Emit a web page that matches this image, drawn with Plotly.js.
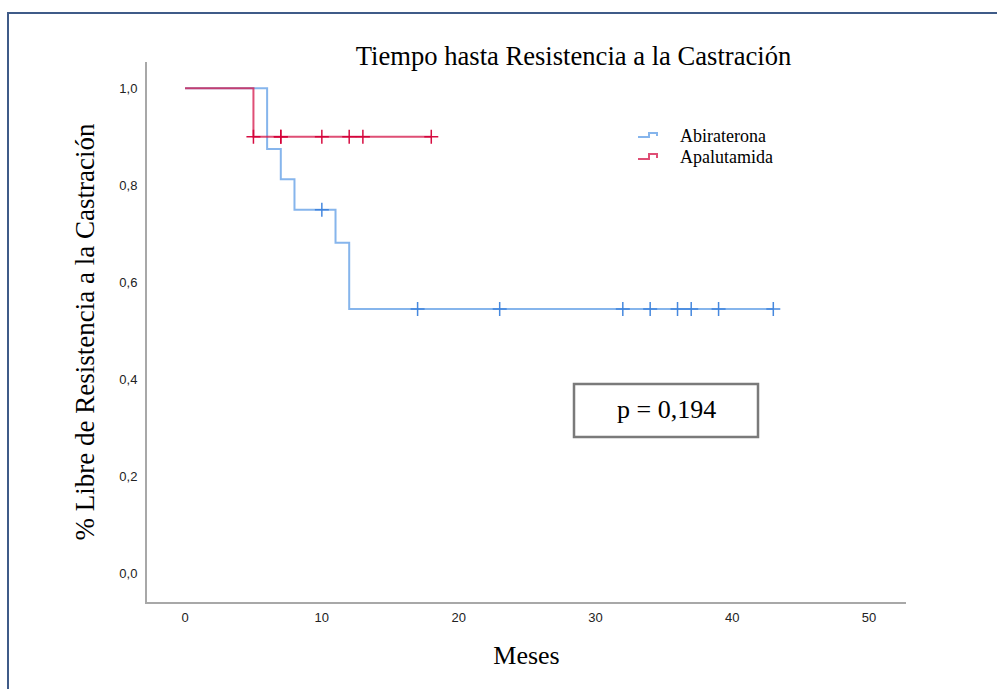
<!DOCTYPE html>
<html>
<head>
<meta charset="utf-8">
<script src="https://cdn.plot.ly/plotly-3.0.1.min.js"></script>
<style>
  html, body { margin: 0; padding: 0; background: #ffffff; overflow: hidden; }
  #frame {
    position: absolute; left: 7px; top: 12px; width: 1000px; height: 700px;
    border-left: 2px solid #3f5b88; border-top: 2px solid #3f5b88;
    pointer-events: none;
  }
  #chart { position: absolute; left: 0; top: 0; width: 997px; height: 689px; }
</style>
</head>
<body>
<div id="chart"></div>
<div id="frame"></div>
<script>
// Kaplan-Meier step values (months, survival fraction) for each group
const groupNames = ['Abiraterona', 'Apalutamida'];

const abiStepTime = [0, 6, 7, 8, 11, 12, 43];
const abiStepSurv = [1.0, 0.875, 0.8125, 0.75, 0.6818, 0.5455, 0.5455];
const abiCensorTime = [10, 17, 23, 32, 34, 36, 37, 39, 43];

const apaStepTime = [0, 5, 18];
const apaStepSurv = [1.0, 0.9, 0.9];
const apaCensorTime = [5, 7, 7, 10, 12, 13, 18];

const xTickVals = [0, 10, 20, 30, 40, 50];
const yTickVals = [0, 0.2, 0.4, 0.6, 0.8, 1.0];
const pValueText = 'p = 0,194';

const blueLine = 'rgba(88,152,228,0.72)';
const blueMark = 'rgba(60,130,220,0.95)';
const redLine = 'rgba(214,28,78,0.78)';
const redMark = 'rgba(212,0,56,0.95)';

// survival value of a step curve at time t
function survAt(times, surv, t) {
  let s = surv[0];
  for (let i = 0; i < times.length; i++) if (times[i] <= t) s = surv[i];
  return s;
}

// plot-area pixel box, used for the legend and p-value box placement
const L = 147, R = 906, T = 62, B = 602;
const px = p => (p - L) / (R - L);
const py = p => (B - p) / (B - T);

const traces = [
  { x: abiStepTime, y: abiStepSurv, mode: 'lines', line: { shape: 'hv', color: blueLine, width: 2 },
    hoverinfo: 'skip', showlegend: false },
  { x: abiCensorTime, y: abiCensorTime.map(t => survAt(abiStepTime, abiStepSurv, t)), mode: 'markers',
    marker: { symbol: 'cross-thin', size: 10, line: { color: blueMark, width: 1.5 } }, showlegend: false },
  { x: apaStepTime, y: apaStepSurv, mode: 'lines', line: { shape: 'hv', color: redLine, width: 2 },
    hoverinfo: 'skip', showlegend: false },
  { x: apaCensorTime, y: apaCensorTime.map(t => survAt(apaStepTime, apaStepSurv, t)), mode: 'markers',
    marker: { symbol: 'cross-thin', size: 10, line: { color: redMark, width: 1.5 } }, showlegend: false }
];

// step-shaped legend keys
function keyPath(x0, yLow, yHigh) {
  const a = px(x0), m = px(x0 + 11), b = px(x0 + 19);
  return `M ${a} ${py(yLow)} L ${m} ${py(yLow)} L ${m} ${py(yHigh)} L ${b} ${py(yHigh)} L ${b} ${py(yLow - 1)}`;
}

const serif = 'Liberation Serif, Times New Roman, serif';

const layout = {
  width: 997, height: 689,
  paper_bgcolor: 'rgba(0,0,0,0)', plot_bgcolor: '#ffffff',
  margin: { l: L, r: 997 - R, t: T, b: 689 - B },
  separators: ',.',
  title: {
    text: 'Tiempo hasta Resistencia a la Castración',
    font: { family: serif, size: 26.6, color: '#000000' },
    x: 573.5 / 997, xanchor: 'center', xref: 'container',
    y: 1 - 56 / 689, yanchor: 'middle', yref: 'container'
  },
  xaxis: {
    range: [-2.78, 52.7], tickvals: xTickVals, tickformat: 'd',
    showgrid: false, zeroline: false, showline: true, linecolor: '#a8a8a8', linewidth: 2,
    ticks: '', ticklabelstandoff: 2,
    tickfont: { family: 'Liberation Sans, Arial, sans-serif', size: 13, color: '#222222' },
    title: { text: 'Meses', font: { family: serif, size: 26, color: '#000000' }, standoff: 22 },
    automargin: false
  },
  yaxis: {
    range: [-0.0579, 1.0542], tickvals: yTickVals, tickformat: '.1f',
    showgrid: false, zeroline: false, showline: true, linecolor: '#a8a8a8', linewidth: 2,
    ticks: '', ticklabelstandoff: 5,
    tickfont: { family: 'Liberation Sans, Arial, sans-serif', size: 13, color: '#222222' },
    title: { text: '% Libre de Resistencia a la Castración', font: { family: serif, size: 27, color: '#000000' }, standoff: 17 },
    automargin: false
  },
  shapes: [
    { type: 'path', xref: 'paper', yref: 'paper', path: keyPath(638, 137, 133), line: { color: blueLine, width: 2 } },
    { type: 'path', xref: 'paper', yref: 'paper', path: keyPath(638, 159, 154), line: { color: redLine, width: 2 } },
    { type: 'rect', xref: 'paper', yref: 'paper', x0: px(574), x1: px(758), y0: py(437), y1: py(384),
      line: { color: '#7a7a7a', width: 2.5 }, fillcolor: 'rgba(255,255,255,0)' }
  ],
  annotations: [
    { xref: 'paper', yref: 'paper', x: px(678), y: py(136), xanchor: 'left', yanchor: 'middle', showarrow: false,
      text: groupNames[0], font: { family: serif, size: 18, color: '#000000' } },
    { xref: 'paper', yref: 'paper', x: px(678), y: py(157), xanchor: 'left', yanchor: 'middle', showarrow: false,
      text: groupNames[1], font: { family: serif, size: 18, color: '#000000' } },
    { xref: 'paper', yref: 'paper', x: px(666), y: py(410), xanchor: 'center', yanchor: 'middle', showarrow: false,
      text: pValueText, font: { family: serif, size: 26, color: '#000000' } }
  ],
  showlegend: false
};

Plotly.newPlot('chart', traces, layout, { staticPlot: true, displayModeBar: false });
</script>
</body>
</html>
